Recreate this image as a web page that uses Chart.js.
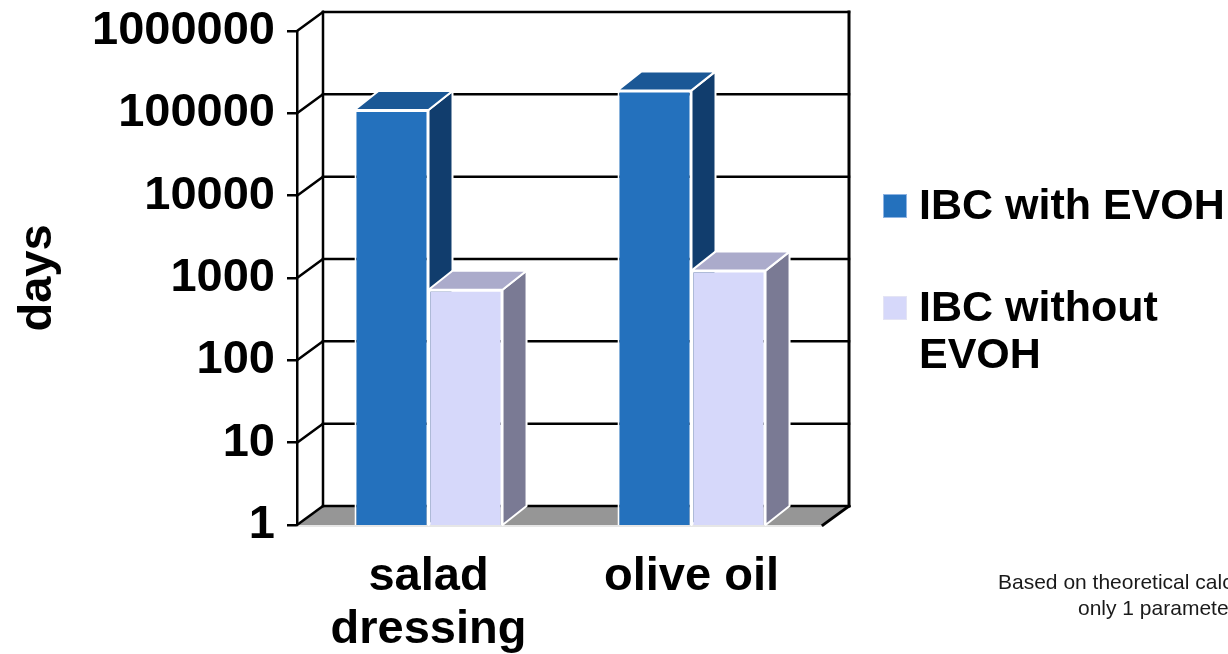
<!DOCTYPE html>
<html>
<head>
<meta charset="utf-8">
<script src="https://cdn.jsdelivr.net/npm/chart.js@4.4.1/dist/chart.umd.min.js"></script>
<style>
  body { margin: 0; background: #fff; }
  canvas { display: block; }
</style>
</head>
<body>
<canvas id="shelfLifeChart" width="1228" height="654"></canvas>
<script>
// chart data
const categories = [['salad', 'dressing'], 'olive oil'];
const seriesNames = ['IBC with EVOH', 'IBC without EVOH'];
const withEvoh = [110000, 190000];
const withoutEvoh = [720, 1230];
const yTickValues = [1, 10, 100, 1000, 10000, 100000, 1000000];
const footnote = ['Based on theoretical calculations', 'only 1 parameter'];

// face colours: front, top, side
const faces = [
    { front: '#2471bd', top: '#1b5896', side: '#113d6d' },
    { front: '#d6d8fa', top: '#ababcb', side: '#7a7a94' }
];

const FONT = '"Liberation Sans", Arial, sans-serif';
const WALL_DX = 26, WALL_DY = -19;
const BAR_DX = 24, BAR_DY = -19;

function poly(ctx, pts, fill, stroke, lw) {
    ctx.beginPath();
    ctx.moveTo(pts[0][0], pts[0][1]);
    for (let i = 1; i < pts.length; i++) ctx.lineTo(pts[i][0], pts[i][1]);
    ctx.closePath();
    if (fill) { ctx.fillStyle = fill; ctx.fill(); }
    if (stroke) { ctx.strokeStyle = stroke; ctx.lineWidth = lw; ctx.stroke(); }
}

function line(ctx, x1, y1, x2, y2, color, lw) {
    ctx.beginPath();
    ctx.moveTo(x1, y1);
    ctx.lineTo(x2, y2);
    ctx.strokeStyle = color;
    ctx.lineWidth = lw;
    ctx.stroke();
}

// back wall, left wall, floor and the 3D sides of each bar
const depthPlugin = {
    id: 'depth',
    beforeDatasetsDraw(chart) {
        const ctx = chart.ctx;
        const a = chart.chartArea;
        const y = chart.scales.y;
        ctx.save();
        ctx.lineCap = 'square';

        // floor
        poly(ctx, [[a.left, a.bottom], [a.right, a.bottom],
                   [a.right + WALL_DX, a.bottom + WALL_DY], [a.left + WALL_DX, a.bottom + WALL_DY]], '#969696');
        line(ctx, a.left, a.bottom + 1, a.right, a.bottom + 1, '#e6e6e6', 2);

        // gridlines on back wall + diagonals on left wall
        yTickValues.forEach(v => {
            const py = y.getPixelForValue(v);
            line(ctx, a.left + WALL_DX, py + WALL_DY, a.right + WALL_DX, py + WALL_DY, '#000', 2.5);
            line(ctx, a.left, py, a.left + WALL_DX, py + WALL_DY, '#000', 2.5);
        });
        // wall verticals and right floor edge
        line(ctx, a.left + WALL_DX, a.top + WALL_DY, a.left + WALL_DX, a.bottom + WALL_DY, '#000', 2.5);
        line(ctx, a.right + WALL_DX, a.top + WALL_DY, a.right + WALL_DX, a.bottom + WALL_DY, '#000', 3);
        line(ctx, a.right + WALL_DX, a.bottom + WALL_DY, a.right, a.bottom, '#000', 3);

        // bar tops and sides, drawn category by category so nearer bars overlap
        ctx.lineCap = 'butt';
        ctx.lineJoin = 'round';
        for (let i = 0; i < categories.length; i++) {
            chart.data.datasets.forEach((ds, d) => {
                const bar = chart.getDatasetMeta(d).data[i];
                const p = bar.getProps(['x', 'y', 'width', 'base'], true);
                const l = p.x - p.width / 2, r = p.x + p.width / 2;
                const c = faces[d];
                poly(ctx, [[r, p.y], [r + BAR_DX, p.y + BAR_DY], [r + BAR_DX, p.base + BAR_DY], [r, p.base]], c.side, '#fff', 2);
                poly(ctx, [[l, p.y], [r, p.y], [r + BAR_DX, p.y + BAR_DY], [l + BAR_DX, p.y + BAR_DY]], c.top, '#fff', 2);
            });
        }
        ctx.restore();
    },
    afterDraw(chart) {
        const ctx = chart.ctx;
        ctx.save();
        // legend
        const legendRows = [
            { y: 195, lines: ['IBC with EVOH'] },
            { y: 297, lines: ['IBC without', 'EVOH'] }
        ];
        ctx.font = 'bold 43px ' + FONT;
        ctx.textBaseline = 'alphabetic';
        ctx.textAlign = 'left';
        legendRows.forEach((row, d) => {
            ctx.fillStyle = faces[d].front;
            ctx.fillRect(884, row.y, 22, 22);
            ctx.strokeStyle = d === 0 ? '#8db3e2' : '#e4e4f4';
            ctx.lineWidth = 1;
            ctx.strokeRect(883.5, row.y - 0.5, 23, 23);
            ctx.fillStyle = '#000';
            row.lines.forEach((t, k) => ctx.fillText(t, 919, row.y + 24 + k * 47));
        });
        // footnote
        ctx.font = '21px ' + FONT;
        ctx.fillStyle = '#1a1a1a';
        ctx.fillText(footnote[0], 998, 589);
        ctx.fillText(footnote[1], 1078, 615);
        ctx.restore();
    }
};

const ctx = document.getElementById('shelfLifeChart').getContext('2d');
const shelfLifeChart = new Chart(ctx, {
    type: 'bar',
    data: {
        labels: categories,
        datasets: [{
            label: seriesNames[0],
            data: withEvoh,
            backgroundColor: faces[0].front,
            borderColor: '#ffffff',
            borderWidth: 2
        }, {
            label: seriesNames[1],
            data: withoutEvoh,
            backgroundColor: faces[1].front,
            borderColor: '#ffffff',
            borderWidth: 2
        }]
    },
    options: {
        responsive: false,
        animation: false,
        layout: { padding: { top: 31, right: 405, left: 0, bottom: 0 } },
        plugins: {
            legend: { display: false },
            tooltip: { enabled: false }
        },
        datasets: {
            bar: { barPercentage: 1, categoryPercentage: 0.563 }
        },
        scales: {
            x: {
                grid: { display: false },
                border: { display: false },
                ticks: {
                    color: '#000',
                    font: { family: FONT, size: 47, weight: 'bold', lineHeight: 1.13 },
                    padding: 17,
                    maxRotation: 0,
                    autoSkip: false
                },
                afterFit(scale) {
                    scale.height = 129;
                    scale.paddingLeft = 0;
                    scale.paddingRight = 0;
                }
            },
            y: {
                type: 'logarithmic',
                min: 1,
                max: 1000000,
                afterBuildTicks(scale) {
                    scale.ticks = yTickValues.map(v => ({ value: v, major: true }));
                },
                afterFit(scale) {
                    scale.width = 297;
                    scale.paddingTop = 0;
                    scale.paddingBottom = 0;
                },
                grid: {
                    drawOnChartArea: false,
                    drawTicks: true,
                    tickLength: 10,
                    color: '#000',
                    lineWidth: 2.5
                },
                border: { display: true, color: '#000', width: 2.5 },
                ticks: {
                    color: '#000',
                    font: { family: FONT, size: 47, weight: 'bold' },
                    padding: 12,
                    callback: v => String(v)
                },
                title: {
                    display: true,
                    text: 'days',
                    color: '#000',
                    font: { family: FONT, size: 47, weight: 'bold', lineHeight: 1.2 },
                    padding: { top: 10, bottom: 0 }
                }
            }
        }
    },
    plugins: [depthPlugin]
});
</script>
</body>
</html>
